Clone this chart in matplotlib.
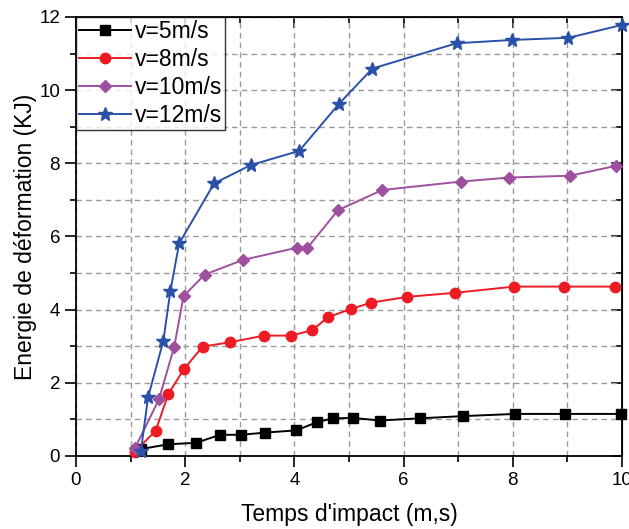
import matplotlib
matplotlib.use("Agg")
import matplotlib.pyplot as plt
from matplotlib.ticker import MultipleLocator

plt.rcParams['font.family'] = ['Liberation Sans', 'DejaVu Sans']

# Deformation energy (kJ) versus impact time for four impact speeds
t_v5 = [1.19, 1.69, 2.20, 2.64, 3.03, 3.47, 4.03, 4.41, 4.70, 5.07, 5.57, 6.30, 7.08, 8.05, 8.96, 9.99]
e_v5 = [0.19, 0.32, 0.36, 0.58, 0.58, 0.64, 0.70, 0.92, 1.03, 1.04, 0.97, 1.03, 1.09, 1.15, 1.15, 1.15]

t_v8 = [1.08, 1.46, 1.69, 1.98, 2.32, 2.83, 3.44, 3.94, 4.33, 4.61, 5.04, 5.40, 6.07, 6.94, 8.03, 8.93, 9.87]
e_v8 = [0.12, 0.69, 1.69, 2.38, 2.99, 3.11, 3.29, 3.29, 3.44, 3.79, 4.02, 4.19, 4.35, 4.46, 4.63, 4.63, 4.63]

t_v10 = [1.08, 1.52, 1.80, 1.97, 2.36, 3.06, 4.04, 4.24, 4.80, 5.61, 7.05, 7.93, 9.05, 9.89]
e_v10 = [0.21, 1.55, 2.99, 4.37, 4.96, 5.36, 5.69, 5.69, 6.72, 7.27, 7.50, 7.61, 7.66, 7.93]

t_v12 = [1.19, 1.32, 1.60, 1.73, 1.89, 2.53, 3.20, 4.09, 4.82, 5.43, 6.97, 7.98, 9.02, 10.0]
e_v12 = [0.15, 1.60, 3.15, 4.52, 5.81, 7.45, 7.95, 8.34, 9.63, 10.59, 11.28, 11.37, 11.43, 11.78]

labels = ["v=5m/s", "v=8m/s", "v=10m/s", "v=12m/s"]

fig = plt.figure(figsize=(6.29, 5.29), dpi=100)
ax = fig.add_axes([0.1208, 0.138, 0.868, 0.830])

ax.plot(t_v5, e_v5, '-', color='black', lw=1.4, marker='s', ms=6.5,
        label=labels[0], clip_on=False, zorder=3)
ax.plot(t_v8, e_v8, '-', color='#ED1C24', lw=1.4, marker='o', ms=7.5,
        label=labels[1], clip_on=False, zorder=3)
ax.plot(t_v10, e_v10, '-', color='#9E4F9E', lw=1.4, marker='D', ms=6.5,
        label=labels[2], clip_on=False, zorder=3)
ax.plot(t_v12, e_v12, '-', color='#2B50A8', lw=1.4, marker='*', ms=10,
        label=labels[3], clip_on=False, zorder=4)

ax.set_xlim(0, 10)
ax.set_ylim(0, 12)
ax.xaxis.set_major_locator(MultipleLocator(2))
ax.xaxis.set_minor_locator(MultipleLocator(1))
ax.yaxis.set_major_locator(MultipleLocator(2))
ax.yaxis.set_minor_locator(MultipleLocator(1))

ax.grid(True, which='both', color='#9a9a9a', linestyle=(0, (4, 3)), lw=1.0, zorder=0)
ax.set_axisbelow(True)

for s in ax.spines.values():
    s.set_linewidth(1.3)

ax.tick_params(which='major', direction='out', length=8, width=1.2, labelsize=13.5,
               bottom=True, left=True, top=False, right=False)
ax.tick_params(which='minor', direction='out', length=4.5, width=1.2,
               bottom=True, left=True, top=False, right=False)

# mirrored inward ticks on the top and right edges
ax_top = ax.secondary_xaxis('top')
ax_top.xaxis.set_major_locator(MultipleLocator(2))
ax_top.xaxis.set_minor_locator(MultipleLocator(1))
ax_top.tick_params(which='major', direction='in', length=8, width=1.2, labeltop=False)
ax_top.tick_params(which='minor', direction='in', length=4.5, width=1.2)
ax_right = ax.secondary_yaxis('right')
ax_right.yaxis.set_major_locator(MultipleLocator(2))
ax_right.yaxis.set_minor_locator(MultipleLocator(1))
ax_right.tick_params(which='major', direction='in', length=8, width=1.2, labelright=False)
ax_right.tick_params(which='minor', direction='in', length=4.5, width=1.2)

ax.set_xlabel("Temps d'impact (m,s)", fontsize=16.5, labelpad=10)
ax.set_ylabel("Energie de déformation (KJ)", fontsize=16.5, labelpad=1.5)

leg = ax.legend(loc='upper left', fontsize=16.5, frameon=True, fancybox=False,
                borderaxespad=0, handlelength=2.3, handletextpad=0.15,
                labelspacing=0.22, borderpad=0.12)
leg.get_frame().set_edgecolor('black')
leg.get_frame().set_linewidth(1.0)
leg.set_zorder(5)

fig.savefig("out.png", dpi=100)
